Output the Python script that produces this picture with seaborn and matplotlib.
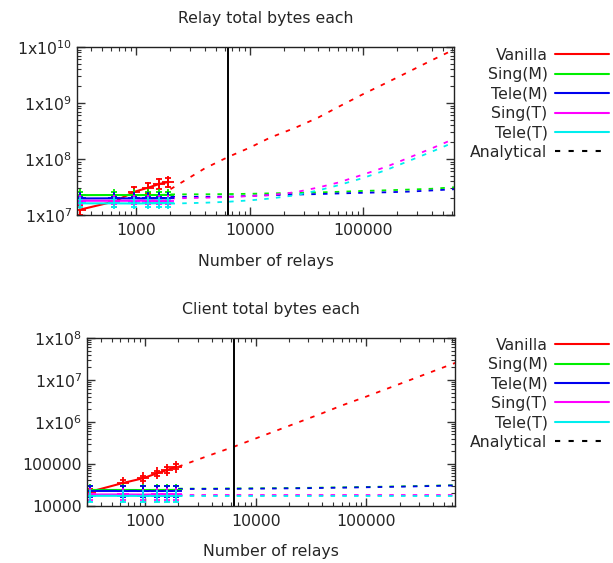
import numpy as np
import pandas as pd
import seaborn as sns
import matplotlib.pyplot as plt
from matplotlib.lines import Line2D
from matplotlib.ticker import FuncFormatter, LogLocator

# measured points (relay counts simulated)
n_meas = [320, 640, 960, 1280, 1600, 1920]
# analytical curve sample points
n_ana = [2000, 4000, 6500, 10000, 15000, 25000, 40000, 60000, 100000,
         160000, 250000, 400000, 650000]

series = ['Vanilla', 'Sing(M)', 'Tele(M)', 'Sing(T)', 'Tele(T)']
colors = ['#ff0000', '#00ee00', '#0000ee', '#ff00ff', '#00eeee']

# relay total bytes each - measured
relay_vanilla = [1.25e7, 1.75e7, 2.6e7, 3.1e7, 3.6e7, 3.9e7]
relay_singm = [2.27e7, 2.28e7, 2.27e7, 2.28e7, 2.28e7, 2.3e7]
relay_telem = [1.98e7, 1.99e7, 1.98e7, 1.98e7, 1.99e7, 2.0e7]
relay_singt = [1.8e7, 1.8e7, 1.8e7, 1.81e7, 1.8e7, 1.82e7]
relay_telet = [1.62e7, 1.62e7, 1.61e7, 1.62e7, 1.62e7, 1.63e7]
relay_err = [0.2, 0.12, 0.12, 0.12, 0.14]

# relay total bytes each - analytical
relay_vanilla_a = [2.9e7, 6.8e7, 1.1e8, 1.6e8, 2.4e8, 3.6e8, 5.5e8, 8.5e8,
                   1.45e9, 2.3e9, 3.6e9, 5.8e9, 9.3e9]
relay_singm_a = [2.34e7, 2.35e7, 2.37e7, 2.4e7, 2.44e7, 2.49e7, 2.54e7,
                 2.6e7, 2.7e7, 2.77e7, 2.85e7, 2.95e7, 3.15e7]
relay_telem_a = [2.12e7, 2.12e7, 2.13e7, 2.2e7, 2.27e7, 2.32e7, 2.37e7,
                 2.43e7, 2.5e7, 2.55e7, 2.62e7, 2.75e7, 2.9e7]
relay_singt_a = [1.98e7, 2.04e7, 2.1e7, 2.18e7, 2.27e7, 2.55e7, 3.1e7,
                 3.8e7, 5.3e7, 7.3e7, 1.05e8, 1.55e8, 2.35e8]
relay_telet_a = [1.6e7, 1.66e7, 1.73e7, 1.83e7, 1.97e7, 2.25e7, 2.75e7,
                 3.4e7, 4.6e7, 6.4e7, 9.2e7, 1.35e8, 2.05e8]

# client total bytes each - measured
client_vanilla = [2.15e4, 3.5e4, 4.5e4, 5.9e4, 7.1e4, 8.6e4]
client_singm = [2.37e4, 2.37e4, 2.36e4, 2.37e4, 2.37e4, 2.38e4]
client_telem = [2.25e4, 2.25e4, 2.25e4, 2.26e4, 2.25e4, 2.26e4]
client_singt = [1.85e4, 1.85e4, 1.84e4, 1.85e4, 1.85e4, 1.85e4]
client_telet = [1.72e4, 1.72e4, 1.71e4, 1.72e4, 1.72e4, 1.72e4]
client_err = [0.15, 0.25, 0.3, 0.25, 0.3]

# client total bytes each - analytical
client_vanilla_a = [8.5e4, 1.65e5, 2.6e5, 4.0e5, 6.0e5, 1.0e6, 1.6e6,
                    2.45e6, 4.0e6, 6.4e6, 1.0e7, 1.6e7, 2.6e7]
client_singm_a = [2.55e4, 2.56e4, 2.58e4, 2.6e4, 2.62e4, 2.65e4, 2.7e4,
                  2.74e4, 2.8e4, 2.86e4, 2.92e4, 3.0e4, 3.1e4]
client_telem_a = [2.5e4, 2.51e4, 2.53e4, 2.55e4, 2.57e4, 2.6e4, 2.65e4,
                  2.69e4, 2.75e4, 2.81e4, 2.87e4, 2.95e4, 3.05e4]
client_singt_a = [1.78e4] * 13
client_telet_a = [1.68e4] * 13

n_today = 6450

sns.set_style('ticks')
plt.rcParams['font.family'] = ['DejaVu Sans']
plt.rcParams['font.size'] = 11.3


def long_df(xs, ys_list):
    frames = []
    for name, ys in zip(series, ys_list):
        frames.append(pd.DataFrame({'n': xs, 'bytes': ys, 'series': name}))
    return pd.concat(frames, ignore_index=True)


def draw_panel(ax, meas, ana, errs, title, ylim, fmt):
    pal = dict(zip(series, colors))
    ana_df = long_df(n_ana, ana)
    sns.lineplot(data=ana_df, x='n', y='bytes', hue='series', palette=pal,
                 ax=ax, legend=False, lw=1.3, dashes=False, sort=True)
    for line in ax.get_lines():
        line.set_dashes((2.5, 4))
    meas_df = long_df(n_meas, meas)
    sns.lineplot(data=meas_df, x='n', y='bytes', hue='series', palette=pal,
                 ax=ax, legend=False, lw=1.5, sort=True)
    for name, ys, e in zip(series, meas, errs):
        ys = np.array(ys)
        ax.errorbar(n_meas, ys, yerr=ys * e, fmt='+', color=pal[name],
                    ms=9, mew=1.3, elinewidth=1.3, capsize=2.5, capthick=1.3)
    ax.axvline(n_today, color='black', lw=1.4)
    ax.set_xscale('log')
    ax.set_yscale('log')
    ax.set_xlim(300, 630000)
    ax.set_ylim(*ylim)
    ax.set_title(title, fontsize=11.3, pad=17)
    ax.set_xlabel('Number of relays', fontsize=11.3, labelpad=11)
    ax.set_ylabel('')
    ax.xaxis.set_major_formatter(FuncFormatter(lambda v, p: '%d' % v))
    ax.xaxis.set_minor_formatter(FuncFormatter(lambda v, p: ''))
    ax.yaxis.set_major_formatter(FuncFormatter(fmt))
    ax.yaxis.set_minor_locator(LogLocator(subs=np.arange(2, 10)))
    ax.yaxis.set_minor_formatter(FuncFormatter(lambda v, p: ''))
    ax.tick_params(which='both', direction='in', top=True, right=True,
                   labelsize=11.3, color='#333333')
    ax.tick_params(which='major', length=6, width=1)
    ax.tick_params(which='minor', length=3, width=0.8)
    ax.tick_params(axis='x', which='major', pad=6)
    for s in ax.spines.values():
        s.set_linewidth(1.0)
        s.set_color('#222222')

    handles = [Line2D([], [], color=c, lw=1.5) for c in colors]
    handles.append(Line2D([], [], color='black', lw=1.5, dashes=(2.5, 4)))
    return handles


def fmt_sci(v, p):
    return '1x10$^{%d}$' % round(np.log10(v))


def fmt_client(v, p):
    if v < 1e6:
        return '%d' % v
    return fmt_sci(v, p)


fig = plt.figure(figsize=(6.13, 5.63), dpi=100)
ax1 = fig.add_axes([0.1256, 0.618, 0.615, 0.2984])
ax2 = fig.add_axes([0.1419, 0.1018, 0.600, 0.2979])

h1 = draw_panel(ax1, [relay_vanilla, relay_singm, relay_telem, relay_singt, relay_telet],
                [relay_vanilla_a, relay_singm_a, relay_telem_a, relay_singt_a, relay_telet_a],
                relay_err, 'Relay total bytes each', (1e7, 1e10), fmt_sci)
h2 = draw_panel(ax2, [client_vanilla, client_singm, client_telem, client_singt, client_telet],
                [client_vanilla_a, client_singm_a, client_telem_a, client_singt_a, client_telet_a],
                client_err, 'Client total bytes each', (1e4, 1e8), fmt_client)

labels = series + ['Analytical']
for h, ytop in [(h1, 0.915), (h2, 0.400)]:
    fig.legend(h, labels, loc='upper right', bbox_to_anchor=(0.993, ytop),
               bbox_transform=fig.transFigure, frameon=False, markerfirst=False,
               handlelength=3.4, handletextpad=0.5, labelspacing=0.28,
               borderpad=0, borderaxespad=0, fontsize=11.3)

fig.savefig('out.png', dpi=100)
